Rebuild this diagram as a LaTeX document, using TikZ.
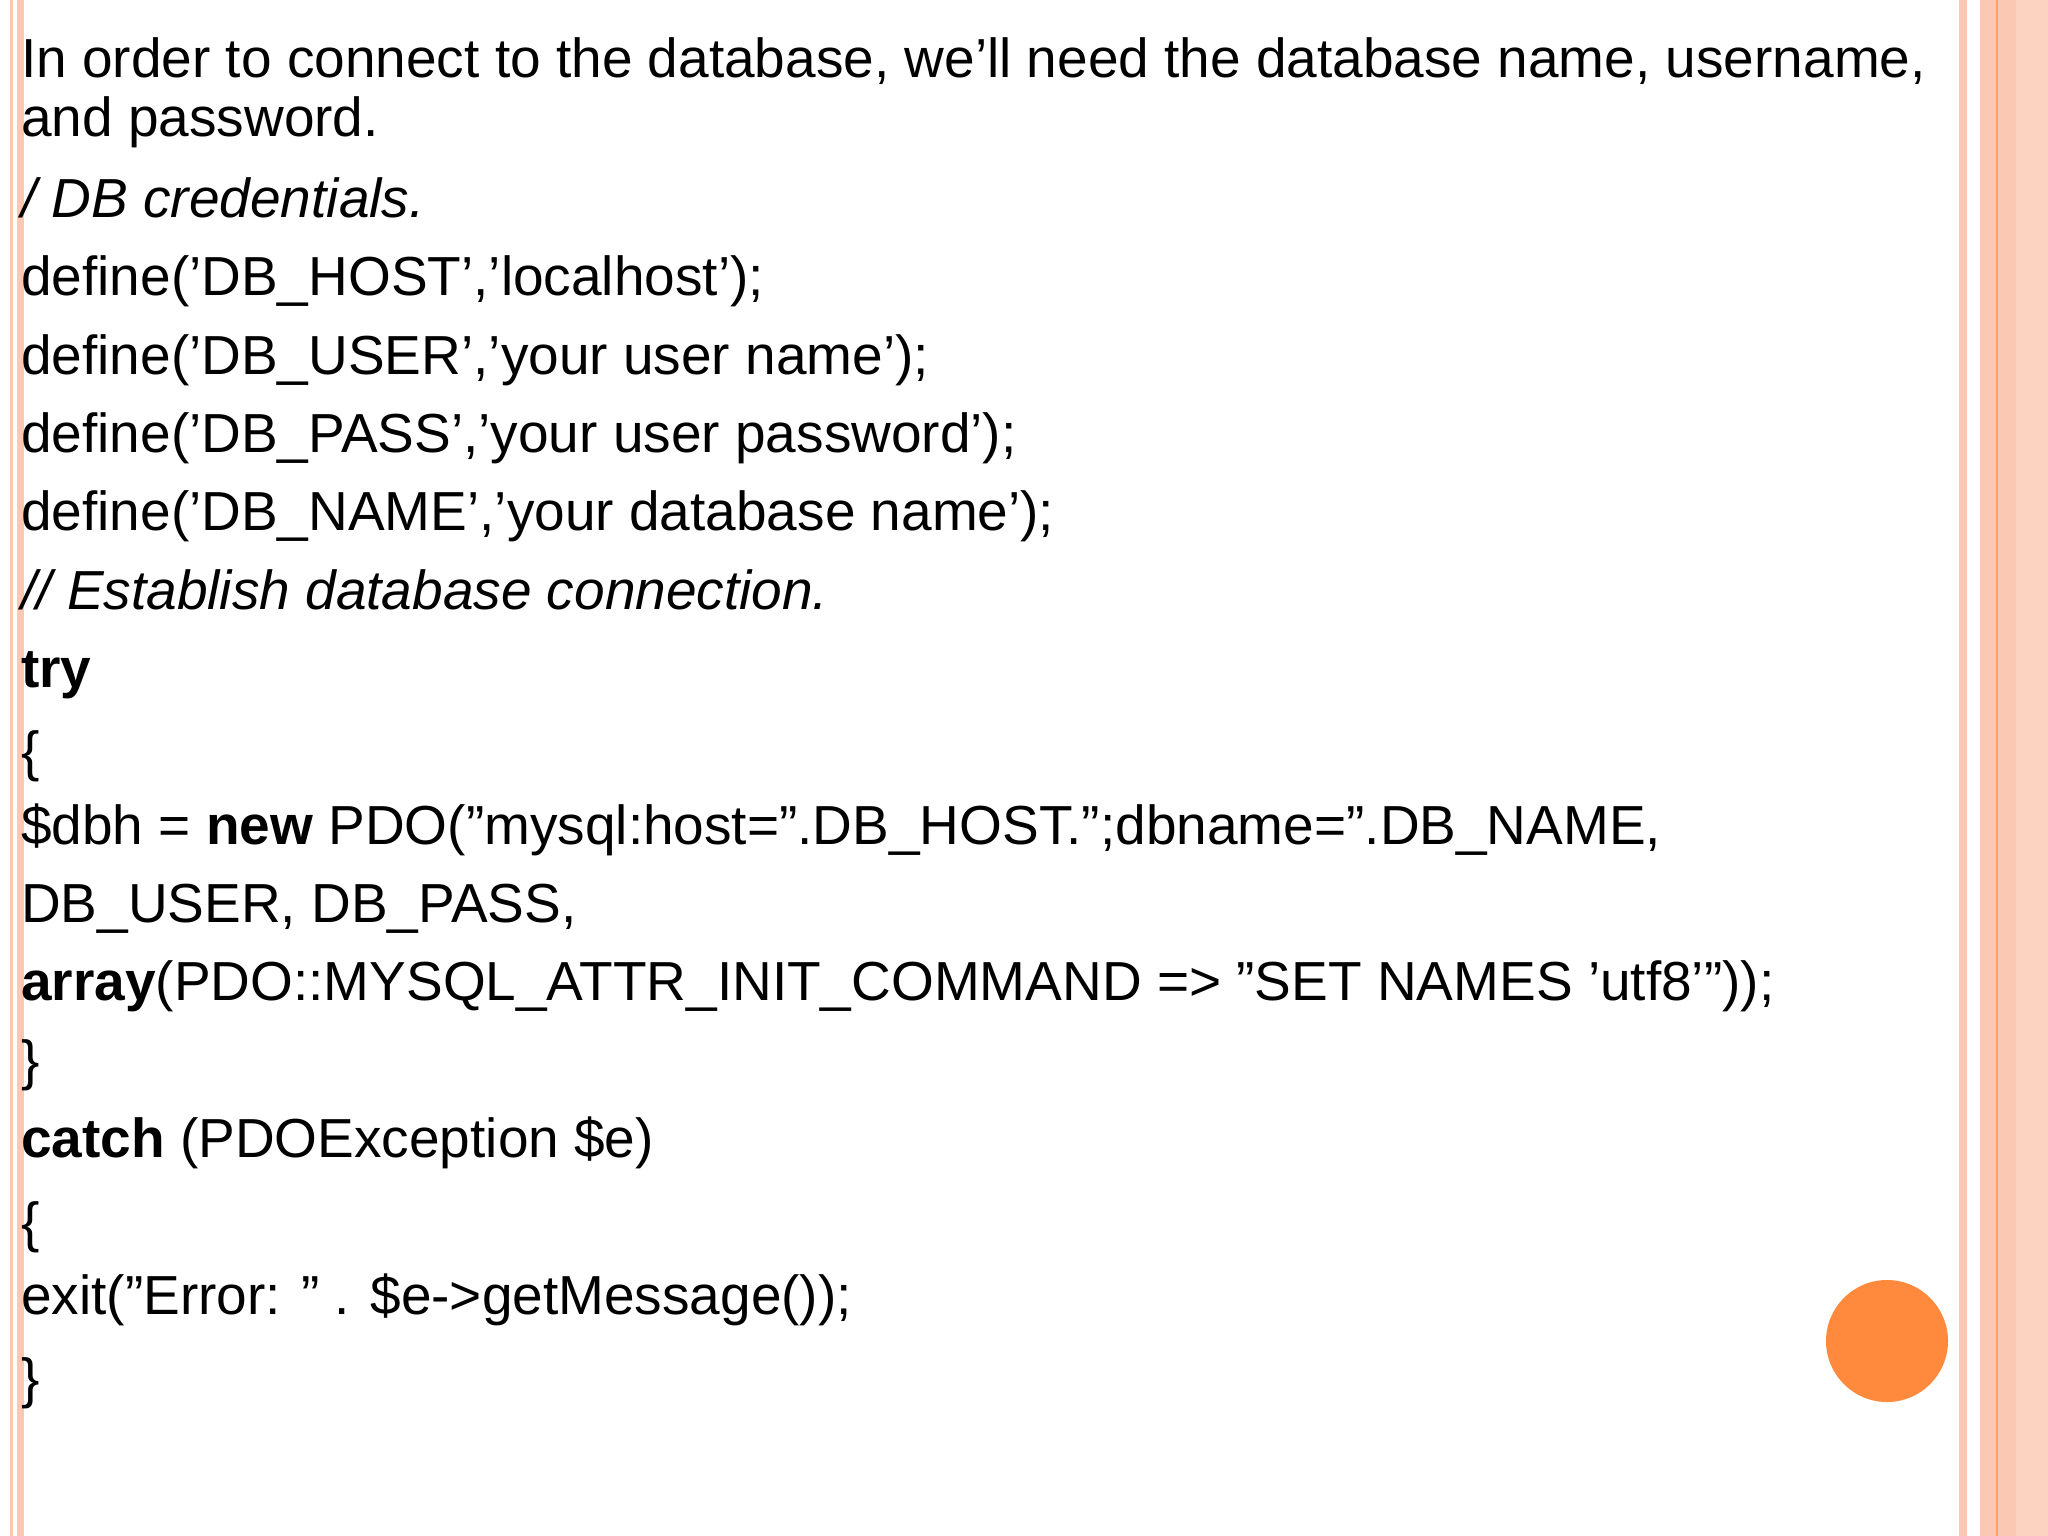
\documentclass[tikz,border=0pt]{standalone}
\usepackage{fontspec}
\setmainfont{Liberation Sans}
\definecolor{salmon}{RGB}{251,200,180}
\definecolor{salmonl}{RGB}{252,210,192}
\definecolor{orng}{RGB}{255,137,60}
\begin{document}
\begin{tikzpicture}[x=1pt,y=-1pt,
  ln/.style={anchor=base west,inner sep=0pt,font=\fontsize{55}{60}\selectfont}]
\useasboundingbox (0,0) rectangle (2048,1536);
\fill[white] (0,0) rectangle (2048,1536);
\fill[salmon] (10,0) rectangle (13,1536);
\fill[salmon] (17,0) rectangle (24,1536);
\fill[salmon] (1959,0) rectangle (1967,1536);
\fill[salmon] (1980,0) rectangle (2016,1536);
\fill[salmonl] (2016,0) rectangle (2048,1536);
\fill[orng!80] (1996,0) rectangle (1997.5,1536);
\node[circle,fill=orng,minimum size=122pt,inner sep=0pt] (dot) at (1887,1341) {};
\node[ln] (l1) at (21,78) {In order to connect to the database, we’ll need the database name, username,};
\node[ln] (l2) at (21,137) {and password.};
\node[ln] (l3) at (21,217) {\itshape / DB credentials.};
\node[ln] (l4) at (21,295) {define('DB\_HOST','localhost');};
\node[ln] (l5) at (21,374) {define('DB\_USER','your user name');};
\node[ln] (l6) at (21,452) {define('DB\_PASS','your user password');};
\node[ln] (l7) at (21,530) {define('DB\_NAME','your database name');};
\node[ln] (l8) at (21,609) {\itshape // Establish database connection.};
\node[ln] (l9) at (21,687) {\bfseries try};
\node[ln] (l10) at (21,770) {\{};
\node[ln] (l11) at (21,844) {\$dbh = \textbf{new} PDO("mysql:host=".DB\_HOST.";dbname=".DB\_NAME,};
\node[ln] (l12) at (21,922) {DB\_USER, DB\_PASS,};
\node[ln] (l13) at (21,1000) {\textbf{array}(PDO::MYSQL\_ATTR\_INIT\_COMMAND => "SET NAMES 'utf8'"));};
\node[ln] (l14) at (21,1079) {\}};
\node[ln] (l15) at (21,1157) {\textbf{catch} (PDOException \$e)};
\node[ln] (l16) at (21,1241) {\{};
\node[ln] (l17) at (21,1314) {exit("Error: " . \$e->getMessage());};
\node[ln] (l18) at (21,1397) {\}};
\end{tikzpicture}
\end{document}
